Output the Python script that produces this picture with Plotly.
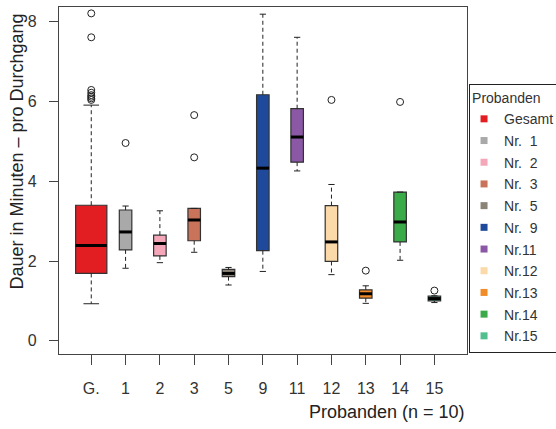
import plotly.graph_objects as go

# ---------------- data ----------------
categories = ["G.", "1", "2", "3", "5", "9", "11", "12", "13", "14", "15"]
legend_labels = ["Gesamt", "Nr.\u00a0\u00a01", "Nr.\u00a0\u00a02", "Nr.\u00a0\u00a03", "Nr.\u00a0\u00a05",
                 "Nr.\u00a0\u00a09", "Nr.11", "Nr.12", "Nr.13", "Nr.14", "Nr.15"]
whisker_low = [0.93, 1.82, 1.96, 2.22, 1.40, 1.74, 4.26, 1.66, 0.94, 2.02, 0.96]
q1 = [1.69, 2.28, 2.13, 2.51, 1.61, 2.26, 4.48, 1.99, 1.07, 2.48, 1.00]
median = [2.39, 2.73, 2.44, 3.03, 1.69, 4.33, 5.11, 2.48, 1.18, 2.98, 1.06]
q3 = [3.40, 3.28, 2.65, 3.32, 1.79, 6.17, 5.82, 3.39, 1.28, 3.73, 1.12]
whisker_high = [5.91, 3.38, 3.26, 3.32, 1.84, 8.19, 7.61, 3.92, 1.38, 3.73, 1.13]
outliers = [
    [8.21, 7.61, 6.29, 6.22, 6.16, 6.12, 6.08, 6.04],
    [4.96],
    [],
    [5.66, 4.60],
    [],
    [],
    [],
    [6.04],
    [1.76],
    [5.99],
    [1.26],
]
colors = ["#E31E22", "#A9A9A9", "#F4A7B9", "#C8735A", "#8C8377", "#1F4A9C",
          "#8A58A5", "#FCD9A8", "#F28C28", "#3BAA48", "#52C08E"]
y_ticks = [0, 2, 4, 6, 8]

# ---------------- style ----------------
FONT = "Liberation Sans, Arial, sans-serif"
TXT = "#333333"
AX = "#444444"
W_TOTAL = 0.91
W_SINGLE = 0.365

x_pos = list(range(1, len(categories) + 1))

fig = go.Figure()

for i, x in enumerate(x_pos):
    w = W_TOTAL if i == 0 else W_SINGLE
    # box (whiskers drawn separately, dashed)
    fig.add_trace(go.Box(
        x=[x], q1=[q1[i]], median=[median[i]], q3=[q3[i]],
        lowerfence=[q1[i]], upperfence=[q3[i]],
        width=w, fillcolor=colors[i],
        line=dict(color="#333333", width=1.2),
        boxpoints=False, showlegend=False, hoverinfo="skip",
    ))
    # dashed whiskers
    fig.add_trace(go.Scatter(
        x=[x, x, None, x, x],
        y=[q3[i], whisker_high[i], None, q1[i], whisker_low[i]],
        mode="lines", line=dict(color="#222222", width=1, dash="4px,3px"),
        showlegend=False, hoverinfo="skip",
    ))
    # staples
    fig.add_trace(go.Scatter(
        x=[x - w / 4, x + w / 4, None, x - w / 4, x + w / 4],
        y=[whisker_high[i], whisker_high[i], None, whisker_low[i], whisker_low[i]],
        mode="lines", line=dict(color="#222222", width=1),
        showlegend=False, hoverinfo="skip",
    ))
    # thick median
    fig.add_trace(go.Scatter(
        x=[x - w / 2, x + w / 2], y=[median[i], median[i]],
        mode="lines", line=dict(color="black", width=3),
        showlegend=False, hoverinfo="skip",
    ))
    # outliers
    if outliers[i]:
        fig.add_trace(go.Scatter(
            x=[x] * len(outliers[i]), y=outliers[i], mode="markers",
            marker=dict(symbol="circle-open", size=7, color="#222222", line=dict(width=1)),
            showlegend=False, hoverinfo="skip",
        ))

# legend entries
for i, name in enumerate(legend_labels):
    fig.add_trace(go.Scatter(
        x=[None], y=[None], mode="markers", name=name,
        marker=dict(symbol="square", size=7, color=colors[i]),
        legendgroup=f"g{i}",
    ))

fig.update_layout(
    width=556, height=429,
    margin=dict(l=59, r=89, t=7, b=75, autoexpand=False),
    paper_bgcolor="white", plot_bgcolor="white",
    font=dict(family=FONT, color=TXT, size=16),
    showlegend=True,
    legend=dict(
        x=1.005, xanchor="left", y=0.778, yanchor="top",
        bordercolor="#222222", borderwidth=1,
        font=dict(size=14, family=FONT, color=TXT),
        title=dict(text="Probanden", font=dict(size=14, family=FONT, color=TXT)),
        tracegroupgap=0.5, itemwidth=30, indentation=-6,
    ),
    xaxis=dict(
        range=[0.06, 11.95], tickmode="array", tickvals=x_pos, ticktext=categories,
        ticks="outside", ticklen=10, tickcolor=AX, tickwidth=1.2,
        showline=True, mirror=True, linecolor=AX, linewidth=1.2,
        showgrid=False, zeroline=False, ticklabelstandoff=10,
        tickfont=dict(size=16, family=FONT, color=TXT),
    ),
    yaxis=dict(
        range=[-0.33, 8.37], tickmode="array", tickvals=y_ticks,
        ticks="outside", ticklen=9, tickcolor=AX, tickwidth=1.2,
        showline=True, mirror=True, linecolor=AX, linewidth=1.2,
        showgrid=False, zeroline=False, ticklabelstandoff=9,
        tickfont=dict(size=16, family=FONT, color=TXT),
    ),
    annotations=[
        dict(text="Probanden (n = 10)", xref="paper", yref="paper",
             x=1.0, y=-0.167, xanchor="right", yanchor="middle", showarrow=False,
             font=dict(size=18, family=FONT, color="#222222")),
        dict(text="Dauer in Minuten \u2013 pro Durchgang", xref="paper", yref="paper",
             x=-0.104, y=0.582, xanchor="center", yanchor="middle", textangle=-90,
             showarrow=False, font=dict(size=18, family=FONT, color="#222222")),
    ],
)

fig.write_html("out.html", config={"displayModeBar": False},
               post_script="document.body.style.margin='0';")
